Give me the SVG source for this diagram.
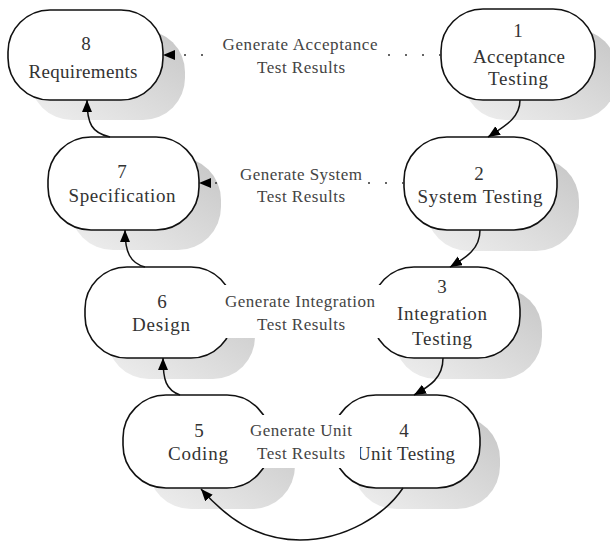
<svg xmlns="http://www.w3.org/2000/svg" width="610" height="544" viewBox="0 0 610 544">
<defs>
<linearGradient id="sh" x1="0" y1="1" x2="1" y2="0">
<stop offset="0" stop-color="#efefef"/>
<stop offset="1" stop-color="#c6c6c6"/>
</linearGradient>
<marker id="ah" markerUnits="userSpaceOnUse" markerWidth="13" markerHeight="11" refX="12" refY="5" orient="auto" viewBox="0 0 13 11">
<path d="M0,0 L12,5 L0,10 z" fill="#000"/>
</marker>
<style>
.shadow{fill:url(#sh);stroke:none}
.node{fill:#fff;stroke:#111;stroke-width:1.6}
.nt{font-family:"Liberation Serif",serif;font-size:19px;fill:#333;text-anchor:middle}
.lt{font-family:"Liberation Serif",serif;font-size:17px;fill:#444;text-anchor:middle}
.edge{fill:none;stroke:#111;stroke-width:1.5;marker-end:url(#ah)}
.dot{fill:none;stroke:#333;stroke-width:1.5;stroke-dasharray:2 15;marker-end:url(#ah)}
.lbg{fill:#fff;stroke:none}
</style>
</defs>
<rect width="610" height="544" fill="#fff"/>

<g id="node8">
<rect class="shadow" x="30" y="30" width="155" height="90" rx="42"/>
<rect class="node" x="8" y="10" width="155" height="90" rx="42"/>
<text class="nt" x="86" y="50">8</text>
<text class="nt" x="83" y="78" textLength="109" lengthAdjust="spacing">Requirements</text>
</g>
<g id="node1">
<rect class="shadow" x="463" y="29" width="154" height="91" rx="42"/>
<rect class="node" x="441" y="9" width="154" height="91" rx="42"/>
<text class="nt" x="518" y="37">1</text>
<text class="nt" x="519" y="63" textLength="92" lengthAdjust="spacing">Acceptance</text>
<text class="nt" x="518" y="85" textLength="60" lengthAdjust="spacing">Testing</text>
</g>
<g id="node7">
<rect class="shadow" x="70" y="157" width="151" height="93" rx="43"/>
<rect class="node" x="48" y="137" width="151" height="93" rx="43"/>
<text class="nt" x="122" y="178">7</text>
<text class="nt" x="122" y="202" textLength="107" lengthAdjust="spacing">Specification</text>
</g>
<g id="node2">
<rect class="shadow" x="426" y="158" width="153" height="93" rx="43"/>
<rect class="node" x="404" y="137" width="153" height="93" rx="43"/>
<text class="nt" x="479" y="180">2</text>
<text class="nt" x="480" y="203" textLength="125" lengthAdjust="spacing">System Testing</text>
</g>
<g id="node6">
<rect class="shadow" x="107" y="288" width="148" height="91" rx="42"/>
<rect class="node" x="85" y="267" width="148" height="91" rx="42"/>
<text class="nt" x="162" y="308">6</text>
<text class="nt" x="161" y="331" textLength="58" lengthAdjust="spacing">Design</text>
</g>
<g id="node3">
<rect class="shadow" x="394" y="288" width="148" height="91" rx="42"/>
<rect class="node" x="372" y="267" width="148" height="91" rx="42"/>
<text class="nt" x="442" y="293">3</text>
<text class="nt" x="442" y="320" textLength="90" lengthAdjust="spacing">Integration</text>
<text class="nt" x="442" y="345" textLength="60" lengthAdjust="spacing">Testing</text>
</g>
<g id="node5">
<rect class="shadow" x="148" y="416" width="147" height="93" rx="43"/>
<rect class="node" x="123" y="395" width="147" height="93" rx="43"/>
<text class="nt" x="199" y="437">5</text>
<text class="nt" x="198" y="460" textLength="60" lengthAdjust="spacing">Coding</text>
</g>
<g id="node4">
<rect class="shadow" x="353" y="416" width="147" height="93" rx="43"/>
<rect class="node" x="333" y="395" width="147" height="93" rx="43"/>
<text class="nt" x="404" y="437">4</text>
<text class="nt" x="406" y="460" textLength="98" lengthAdjust="spacing">Unit Testing</text>
</g>

<g id="connectors">
<path class="dot" d="M441 55 L163 55"/>
<path class="dot" d="M404 183 L199 183"/>
<path class="edge" d="M520 100 C520 118 505 126 488 137"/>
<path class="edge" d="M480 230 C480 250 465 258 450 267"/>
<path class="edge" d="M443 358 C443 378 430 386 414 395"/>
<path class="edge" d="M403 488 C385 515 345 540 300 540 C255 540 225 516 201 489"/>
<path class="edge" d="M180 395 C166 390 163 380 163 358"/>
<path class="edge" d="M145 267 C130 263 125 252 125 230"/>
<path class="edge" d="M110 137 C92 133 87 124 87 100"/>
<g id="label-acceptance">
<rect class="lbg" x="213" y="34" width="172" height="44"/>
<text class="lt" x="300" y="50" textLength="155" lengthAdjust="spacing">Generate Acceptance</text>
<text class="lt" x="301" y="73" textLength="88" lengthAdjust="spacing">Test Results</text>
</g>
<g id="label-system">
<rect class="lbg" x="229" y="163" width="133" height="44"/>
<text class="lt" x="301" y="180" textLength="122" lengthAdjust="spacing">Generate System</text>
<text class="lt" x="301" y="202" textLength="88" lengthAdjust="spacing">Test Results</text>
</g>
<g id="label-integration">
<rect class="lbg" x="221" y="285" width="161" height="53"/>
<text class="lt" x="300" y="307" textLength="150" lengthAdjust="spacing">Generate Integration</text>
<text class="lt" x="301" y="330" textLength="88" lengthAdjust="spacing">Test Results</text>
</g>
<g id="label-unit">
<rect class="lbg" x="247" y="415" width="113" height="53"/>
<text class="lt" x="301" y="436" textLength="102" lengthAdjust="spacing">Generate Unit</text>
<text class="lt" x="301" y="459" textLength="88" lengthAdjust="spacing">Test Results</text>
</g>
</g>
</svg>
